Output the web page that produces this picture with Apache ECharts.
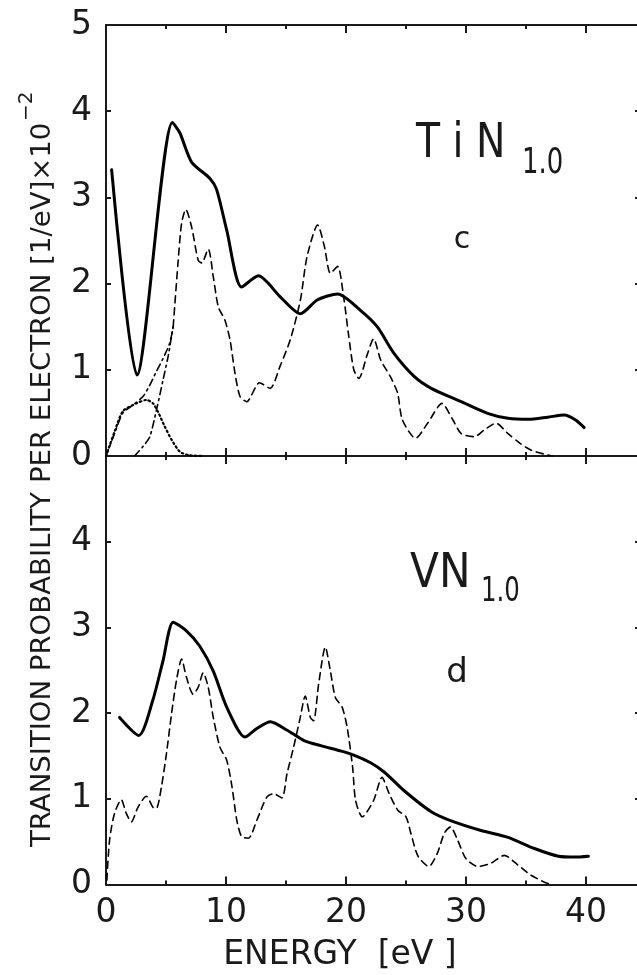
<!DOCTYPE html>
<html><head><meta charset="utf-8">
<script src="https://cdn.jsdelivr.net/npm/echarts@6/dist/echarts.min.js"></script>
<style>html,body{margin:0;padding:0;background:#fff;overflow:hidden}#c{width:720px;height:975px}</style>
</head><body><div id="c"></div>
<script>
// ---- data (energy in eV, probability per electron in 1/eV x 10^-2) ----
const tinTotal = [[0.47,3.32],[2.58,0.94],[5.54,3.87],[6.15,3.75],[7.13,3.41],[8.66,3.22],[9.22,3.09],[10.06,2.62],[11.3,1.96],[12.7,2.09],[14.5,1.85],[16.2,1.65],[17.6,1.81],[19.3,1.88],[21.2,1.69],[22.6,1.5],[24.0,1.19],[25.7,0.92],[27.1,0.785],[29.6,0.63],[31.8,0.495],[33.5,0.437],[35.2,0.425],[36.8,0.45],[38.2,0.476],[39.1,0.42],[39.85,0.33]];
const tinDashed = [[5.6,1.5],[6.0,2.24],[6.3,2.7],[6.65,2.86],[7.13,2.66],[7.68,2.27],[7.97,2.24],[8.52,2.40],[8.94,2.08],[9.36,1.73],[9.9,1.58],[10.33,1.35],[10.75,0.96],[11.17,0.69],[11.73,0.63],[12.79,0.85],[13.68,0.785],[14.5,1.04],[15.36,1.35],[16.2,1.81],[16.75,2.31],[17.64,2.68],[18.2,2.43],[18.7,2.12],[19.3,2.20],[19.8,1.85],[20.2,1.42],[20.65,1.0],[21.07,0.9],[21.8,1.19],[22.3,1.36],[22.9,1.11],[23.7,0.92],[24.3,0.73],[24.7,0.42],[25.8,0.205],[26.8,0.38],[28.0,0.61],[28.9,0.42],[29.6,0.26],[30.7,0.224],[31.5,0.30],[32.5,0.38],[33.5,0.26],[34.5,0.147],[35.4,0.07],[36.55,0.02],[37.2,0]];
const tinDashDot1 = [[0,0],[0.71,0.26],[1.41,0.5],[2.24,0.59],[3.08,0.69],[3.64,0.82],[4.2,0.98],[4.75,1.13],[5.31,1.31],[5.6,1.5]];
const tinDashDot2 = [[2.38,0],[3.08,0.11],[3.64,0.22],[4.2,0.53],[4.75,0.88],[5.17,1.15],[5.45,1.38],[5.6,1.5]];
const tinDotted = [[0,0],[0.71,0.28],[1.41,0.52],[2.53,0.61],[3.36,0.65],[3.92,0.61],[4.34,0.51],[4.9,0.34],[5.46,0.19],[6.15,0.05],[6.9,0.01],[8.0,0]];
const vnTotal = [[1.13,1.95],[2.74,1.74],[3.9,2.15],[4.75,2.61],[5.6,3.06],[6.7,2.96],[7.82,2.78],[8.94,2.49],[10.06,2.07],[11.59,1.72],[12.57,1.82],[13.7,1.90],[15.1,1.80],[16.5,1.68],[17.9,1.62],[19.5,1.56],[20.65,1.51],[22.05,1.42],[23.2,1.31],[24.8,1.10],[27.1,0.85],[29.0,0.73],[31.25,0.63],[33.5,0.55],[35.7,0.42],[37.7,0.33],[39.1,0.32],[40.2,0.33]];
const vnDashed = [[0.07,0.05],[0.3,0.52],[0.71,0.83],[1.27,0.99],[1.69,0.83],[2.11,0.73],[2.66,0.90],[3.36,1.03],[3.92,0.90],[4.2,0.89],[4.62,1.14],[5.04,1.53],[5.46,1.99],[5.87,2.38],[6.3,2.63],[6.7,2.42],[7.26,2.22],[7.68,2.30],[8.1,2.47],[8.52,2.30],[8.94,1.95],[9.5,1.60],[10.06,1.45],[10.5,1.14],[10.9,0.75],[11.3,0.56],[11.87,0.54],[12.57,0.75],[13.4,1.02],[13.96,1.06],[14.66,1.01],[15.08,1.29],[15.63,1.60],[16.19,1.95],[16.6,2.20],[17.03,1.95],[17.3,1.91],[17.72,2.34],[18.28,2.77],[18.7,2.49],[19.12,2.18],[19.68,2.07],[20.1,1.83],[20.55,1.37],[20.8,0.98],[21.36,0.79],[22.3,0.98],[23.0,1.25],[23.6,1.06],[24.3,0.87],[25.0,0.79],[25.4,0.60],[26.0,0.33],[26.9,0.21],[27.6,0.36],[28.2,0.60],[28.7,0.67],[29.3,0.52],[30.0,0.30],[31.0,0.21],[32.1,0.25],[33.2,0.34],[34.3,0.23],[35.4,0.11],[36.5,0.03],[37.1,0]];
const xTickLabels = ['0','10','20','30','40'];
const yTickLabelsTop = ['0','1','2','3','4','5'];
const yTickLabelsBottom = ['0','1','2','3','4'];
const yAxisTitle = 'TRANSITION PROBABILITY PER ELECTRON [1/eV]×10';
const yAxisTitleSup = '−2';
const xAxisTitle = 'ENERGY  [eV ]';

const FONT = '"DejaVu Sans", sans-serif';
const INK = '#1a1a1a';
const chart = echarts.init(document.getElementById('c'), null, {renderer: 'canvas'});

function xAx(grid, pos, labels) {
  return {
    type: 'value', gridIndex: grid, position: pos, min: 0, max: 50, interval: 10,
    axisLine: {show: true, onZero: false, lineStyle: {color: INK, width: 2}},
    axisTick: {show: true, inside: true, length: 8, lineStyle: {color: INK, width: 2}},
    minorTick: {show: true, splitNumber: 2, length: 4, lineStyle: {color: INK, width: 2}},
    splitLine: {show: false}, minorSplitLine: {show: false},
    axisLabel: labels ? {show: true, margin: 12, color: INK, fontFamily: FONT, fontSize: 33,
      formatter: v => xTickLabels.indexOf(String(v)) >= 0 ? String(v) : ''} : {show: false}
  };
}
function yAx(grid, pos, labels, offset) {
  return {
    type: 'value', gridIndex: grid, position: pos, min: 0, max: 5, interval: 1, offset: offset || 0,
    axisLine: {show: true, onZero: false, lineStyle: {color: INK, width: 2}},
    axisTick: {show: true, inside: true, length: 5, lineStyle: {color: INK, width: 2}},
    splitLine: {show: false},
    axisLabel: labels ? {show: true, margin: 14, color: INK, fontFamily: FONT, fontSize: 33,
      formatter: v => labels.indexOf(String(v)) >= 0 ? String(v) : ''} : {show: false}
  };
}
function line(data, xi, yi, style, width) {
  return {type: 'line', data: data, xAxisIndex: xi, yAxisIndex: yi, showSymbol: false, symbol: 'none',
    smooth: 0.25, lineStyle: {color: '#000', width: width, type: style, cap: 'round'}, z: 3, silent: true};
}

const option = {
  backgroundColor: '#fff',
  animation: false,
  grid: [
    {left: 106, top: 25, width: 600, height: 431},
    {left: 106, top: 456, width: 600, height: 428.5}
  ],
  xAxis: [xAx(0, 'bottom', false), xAx(0, 'top', false), xAx(1, 'top', false), xAx(1, 'bottom', true)],
  yAxis: [yAx(0, 'left', yTickLabelsTop), yAx(0, 'right', null, -66), yAx(1, 'left', yTickLabelsBottom), yAx(1, 'right', null, -66)],
  series: [
    line(tinTotal, 0, 0, 'solid', 3),
    line(tinDashed, 0, 0, [7, 5], 1.6),
    line(tinDashDot1, 0, 0, [7, 4, 2, 4], 1.6),
    line(tinDashDot2, 0, 0, [7, 4, 2, 4], 1.6),
    line(tinDotted, 0, 0, [1.5, 3], 2.2),
    line(vnTotal, 3, 2, 'solid', 3),
    line(vnDashed, 3, 2, [7, 5], 1.6)
  ],
  graphic: [
    {type: 'text', x: 43, y: 847, rotation: Math.PI / 2, scaleX: 1.02,
      style: {text: yAxisTitle, font: '27px ' + FONT, fill: INK, textAlign: 'left', textVerticalAlign: 'middle', align: 'left', verticalAlign: 'middle'}},
    {type: 'text', x: 27, y: 121, rotation: Math.PI / 2,
      style: {text: yAxisTitleSup, font: '20px ' + FONT, fill: INK, textAlign: 'left', textVerticalAlign: 'middle', align: 'left', verticalAlign: 'middle'}},
    {type: 'text', x: 340, y: 955,
      style: {text: xAxisTitle, font: '33px ' + FONT, fill: INK, textAlign: 'center', textVerticalAlign: 'middle', align: 'center', verticalAlign: 'middle'}},
    {type: 'text', x: 416, y: 145, scaleX: 0.82,
      style: {text: 'T i N', font: '48px ' + FONT, fill: INK, textAlign: 'left', textVerticalAlign: 'middle', align: 'left', verticalAlign: 'middle'}},
    {type: 'text', x: 522, y: 164, scaleX: 0.72,
      style: {text: '1.0', font: '36px ' + FONT, fill: INK, textAlign: 'left', textVerticalAlign: 'middle', align: 'left', verticalAlign: 'middle'}},
    {type: 'text', x: 462, y: 240,
      style: {text: 'c', font: '30px ' + FONT, fill: INK, textAlign: 'center', textVerticalAlign: 'middle', align: 'center', verticalAlign: 'middle'}},
    {type: 'text', x: 410, y: 575, scaleX: 0.88,
      style: {text: 'VN', font: '48px ' + FONT, fill: INK, textAlign: 'left', textVerticalAlign: 'middle', align: 'left', verticalAlign: 'middle'}},
    {type: 'text', x: 481, y: 592, scaleX: 0.72,
      style: {text: '1.0', font: '34px ' + FONT, fill: INK, textAlign: 'left', textVerticalAlign: 'middle', align: 'left', verticalAlign: 'middle'}},
    {type: 'text', x: 457, y: 673,
      style: {text: 'd', font: '34px ' + FONT, fill: INK, textAlign: 'center', textVerticalAlign: 'middle', align: 'center', verticalAlign: 'middle'}}
  ]
};
chart.setOption(option);
</script>
</body></html>
